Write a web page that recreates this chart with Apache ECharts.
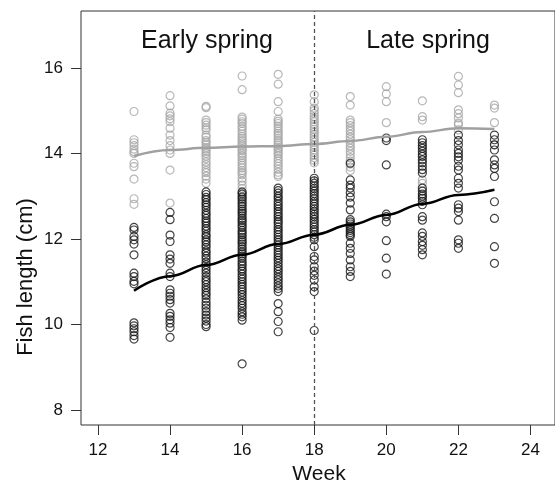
<!DOCTYPE html>
<html>
<head>
<meta charset="utf-8">
<script src="https://cdn.jsdelivr.net/npm/echarts@6/dist/echarts.min.js"></script>
<style>
html,body{margin:0;padding:0;background:#fff;}
#chart{width:555px;height:486px;}
</style>
</head>
<body>
<div id="chart"></div>
<script>
// 周次与刻度
var weeks = [13, 14, 15, 16, 17, 18, 19, 20, 21, 22, 23];
var xTicks = [12, 14, 16, 18, 20, 22, 24];
var yTicks = [8, 10, 12, 14, 16];

// 灰色组（上层）每周体长
var grayByWeek = [
  [14.98, 14.32, 14.25, 14.18, 14.1, 14.04, 14.0, 13.77, 13.69, 13.4, 12.94, 12.81],
  [15.35, 15.11, 14.94, 14.88, 14.81, 14.74, 14.59, 14.43, 14.3, 14.18, 14.08, 14.0, 13.61, 12.84],
  [15.1, 15.07, 14.78, 14.72, 14.66, 14.6, 14.55, 14.43, 14.38, 14.3, 14.26, 14.2, 14.14, 14.1, 14.05, 14.0, 13.94, 13.88, 13.8, 13.74, 13.67, 13.6, 13.55, 13.47, 13.4, 13.3],
  [15.81, 15.49, 14.85, 14.8, 14.74, 14.7, 14.63, 14.58, 14.52, 14.46, 14.4, 14.35, 14.3, 14.25, 14.2, 14.15, 14.1, 14.06, 14.0, 13.95, 13.9, 13.84, 13.78, 13.72, 13.66, 13.6, 13.55, 13.5, 13.42, 13.35, 13.26, 13.18, 13.08, 13.0],
  [15.85, 15.62, 15.21, 14.98, 14.8, 14.75, 14.7, 14.64, 14.58, 14.52, 14.47, 14.42, 14.36, 14.3, 14.25, 14.2, 14.14, 14.1, 14.05, 14.0, 13.95, 13.88, 13.82, 13.76, 13.7, 13.63, 13.56, 13.5, 13.46],
  [15.37, 15.21, 15.06, 15.0, 14.93, 14.86, 14.8, 14.74, 14.68, 14.62, 14.56, 14.5, 14.44, 14.38, 14.32, 14.26, 14.2, 14.14, 14.08, 14.02, 13.96, 13.9, 13.84, 13.78],
  [15.33, 15.13, 14.78, 14.72, 14.65, 14.58, 14.52, 14.45, 14.38, 14.32, 14.25, 14.18, 14.12, 14.05, 13.98, 13.9, 13.82, 13.75, 13.68, 13.6],
  [15.56, 15.39, 15.21, 14.72],
  [15.23, 14.86, 14.78, 13.38, 13.3],
  [15.8, 15.6, 15.42, 15.02, 14.93, 14.83, 14.71, 14.67, 14.55],
  [15.13, 15.06, 14.72, 14.2]
];

// 黑色组（下层）每周体长
var blackByWeek = [
  [12.27, 12.21, 12.06, 11.98, 11.88, 11.63, 11.2, 11.12, 11.01, 10.95, 10.04, 9.97, 9.9, 9.83, 9.74, 9.66],
  [12.62, 12.45, 12.09, 11.94, 11.63, 11.53, 11.43, 11.2, 11.12, 10.81, 10.73, 10.66, 10.58, 10.5, 10.26, 10.19, 10.11, 10.03, 9.93, 9.7],
  [13.1, 13.04, 12.97, 12.92, 12.85, 12.8, 12.74, 12.67, 12.6, 12.55, 12.48, 12.42, 12.37, 12.3, 12.24, 12.18, 12.1, 12.05, 11.98, 11.93, 11.86, 11.8, 11.72, 11.67, 11.6, 11.54, 11.46, 11.4, 11.33, 11.27, 11.2, 11.12, 11.05, 11.0, 10.93, 10.86, 10.8, 10.73, 10.68, 10.6, 10.52, 10.45, 10.38, 10.3, 10.22, 10.15, 10.08, 10.0, 9.95],
  [13.1, 13.05, 12.98, 12.93, 12.87, 12.82, 12.76, 12.7, 12.65, 12.6, 12.54, 12.48, 12.43, 12.38, 12.32, 12.27, 12.2, 12.15, 12.1, 12.04, 11.98, 11.93, 11.88, 11.82, 11.76, 11.7, 11.65, 11.6, 11.55, 11.48, 11.42, 11.37, 11.3, 11.25, 11.18, 11.12, 11.06, 11.0, 10.94, 10.88, 10.82, 10.76, 10.7, 10.63, 10.56, 10.5, 10.44, 10.38, 10.3, 10.24, 10.18, 10.1, 9.08],
  [13.19, 13.13, 13.07, 13.0, 12.95, 12.88, 12.82, 12.76, 12.7, 12.64, 12.58, 12.52, 12.46, 12.4, 12.35, 12.28, 12.22, 12.16, 12.1, 12.04, 11.98, 11.92, 11.86, 11.8, 11.74, 11.68, 11.62, 11.56, 11.5, 11.43, 11.36, 11.3, 11.24, 11.17, 11.1, 11.04, 10.97, 10.9, 10.84, 10.77, 10.49, 10.3, 10.07, 9.83],
  [13.42, 13.36, 13.3, 13.24, 13.18, 13.12, 13.06, 13.0, 12.94, 12.88, 12.82, 12.76, 12.7, 12.64, 12.58, 12.52, 12.46, 12.4, 12.34, 12.28, 12.22, 12.16, 12.1, 12.04, 11.98, 11.82, 11.59, 11.51, 11.35, 11.25, 11.15, 11.04, 10.88, 10.77, 9.86],
  [13.77, 13.38, 13.26, 13.19, 13.08, 12.98, 12.84, 12.68, 12.45, 12.4, 12.35, 12.3, 12.25, 12.2, 12.15, 12.1, 12.06, 11.9, 11.78, 11.66, 11.51, 11.35, 11.24, 11.12],
  [14.36, 14.3, 13.73, 12.58, 12.52, 12.4, 11.96, 11.55, 11.18],
  [14.32, 14.25, 14.18, 14.12, 14.05, 13.98, 13.93, 13.85, 13.78, 13.7, 13.62, 13.54, 13.19, 13.12, 13.05, 13.0, 12.95, 12.88, 12.8, 12.52, 12.44, 12.14, 12.06, 11.94, 11.85, 11.75, 11.63],
  [14.43, 14.3, 14.2, 14.08, 14.0, 13.92, 13.84, 13.7, 13.61, 13.42, 13.3, 13.19, 12.8, 12.72, 12.64, 12.44, 11.98, 11.9, 11.78],
  [14.43, 14.32, 14.2, 14.08, 13.85, 13.73, 13.65, 13.46, 12.87, 12.48, 11.82, 11.43]
];

// 平滑拟合线
var grayFit = [13.94, 14.08, 14.13, 14.16, 14.17, 14.22, 14.29, 14.39, 14.5, 14.59, 14.57];
var blackFit = [10.79, 11.13, 11.39, 11.63, 11.88, 12.1, 12.33, 12.56, 12.82, 13.03, 13.15];

var font = "'Liberation Sans', Arial, Helvetica, sans-serif";

function toPoints(byWeek) {
  var out = [];
  for (var i = 0; i < weeks.length; i++) {
    for (var j = 0; j < byWeek[i].length; j++) {
      out.push([weeks[i], byWeek[i][j]]);
    }
  }
  return out;
}
function toLine(fit) {
  return weeks.map(function (w, i) { return [w, fit[i]]; });
}

var myChart = echarts.init(document.getElementById('chart'), null, { renderer: 'canvas' });

var option = {
  animation: false,
  backgroundColor: '#fff',
  grid: {
    left: 81, top: 11, bottom: 61, right: -10,
    show: true, borderColor: '#333', borderWidth: 1, backgroundColor: 'transparent'
  },
  xAxis: {
    type: 'value', min: 11.53, max: 24.68,
    axisLine: { show: false },
    splitLine: { show: false },
    axisTick: { show: true, length: 10, customValues: xTicks, lineStyle: { color: '#333', width: 1 } },
    axisLabel: { customValues: xTicks, margin: 17, fontSize: 17, color: '#111', fontFamily: font }
  },
  yAxis: {
    type: 'value', min: 7.65, max: 17.33,
    axisLine: { show: false },
    splitLine: { show: false },
    axisTick: { show: true, length: 10, customValues: yTicks, lineStyle: { color: '#333', width: 1 } },
    axisLabel: { customValues: yTicks, margin: 18, fontSize: 17, color: '#111', fontFamily: font }
  },
  graphic: [
    { type: 'text', x: 207, y: 41, style: { text: 'Early spring', font: "25px " + font, fill: '#111', textAlign: 'center', textVerticalAlign: 'middle' } },
    { type: 'text', x: 428, y: 41, style: { text: 'Late spring', font: "25px " + font, fill: '#111', textAlign: 'center', textVerticalAlign: 'middle' } },
    { type: 'text', x: 319, y: 474, style: { text: 'Week', font: "21px " + font, fill: '#111', textAlign: 'center', textVerticalAlign: 'middle' } },
    { type: 'text', x: 26, y: 277, rotation: Math.PI / 2, style: { text: 'Fish length (cm)', font: "22px " + font, fill: '#111', textAlign: 'center', textVerticalAlign: 'middle' } }
  ],
  series: [
    {
      type: 'scatter', data: toPoints(grayByWeek), symbol: 'circle', symbolSize: 8,
      itemStyle: { color: 'transparent', borderColor: '#a6a6a6', borderWidth: 1.2 },
      markLine: {
        silent: true, symbol: 'none', label: { show: false },
        lineStyle: { color: '#555', width: 1.3, type: [4, 3] },
        data: [{ xAxis: 18 }]
      },
      z: 2
    },
    {
      type: 'scatter', data: toPoints(blackByWeek), symbol: 'circle', symbolSize: 8,
      itemStyle: { color: 'transparent', borderColor: '#151515', borderWidth: 1.2 },
      z: 3
    },
    {
      type: 'line', data: toLine(grayFit), smooth: 0.4, smoothMonotone: 'x', symbol: 'none',
      lineStyle: { color: '#a0a0a0', width: 2.5 }, z: 4
    },
    {
      type: 'line', data: toLine(blackFit), smooth: 0.4, smoothMonotone: 'x', symbol: 'none',
      lineStyle: { color: '#000', width: 2.5 }, z: 5
    }
  ]
};

myChart.setOption(option);
</script>
</body>
</html>
